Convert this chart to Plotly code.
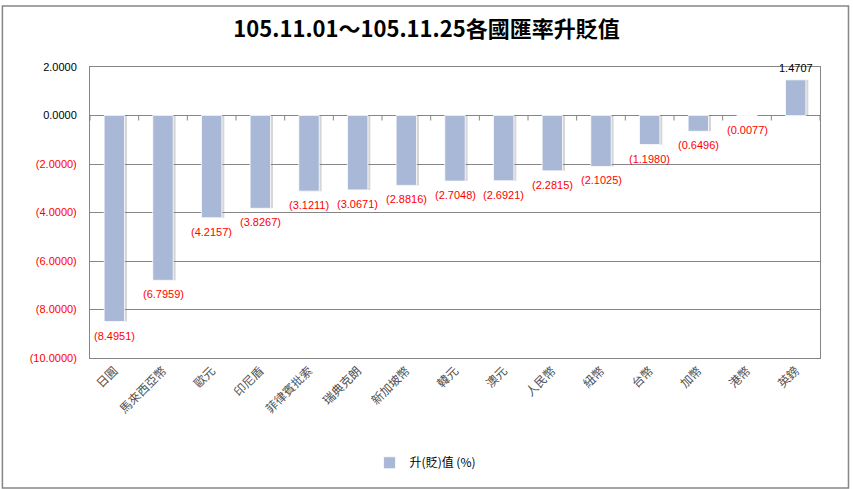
import plotly.graph_objects as go

title_text = "105.11.01～105.11.25各國匯率升貶值"
series_name = "升(貶)值 (%)"
currencies = ["日圓", "馬來西亞幣", "歐元", "印尼盾", "菲律賓批索", "瑞典克朗", "新加坡幣",
              "韓元", "澳元", "人民幣", "紐幣", "台幣", "加幣", "港幣", "英鎊"]
changes = [-8.4951, -6.7959, -4.2157, -3.8267, -3.1211, -3.0671, -2.8816,
           -2.7048, -2.6921, -2.2815, -2.1025, -1.1980, -0.6496, -0.0077, 1.4707]
y_ticks = [2, 0, -2, -4, -6, -8, -10]

def fmt(v):
    return f"({abs(v):.4f})" if v < 0 else f"{v:.4f}"

tick_text = [f'<span style="color:#FF0000">{fmt(v)}</span>' if v < 0 else fmt(v) for v in y_ticks]

ymin, ymax = min(y_ticks), max(y_ticks)
n = len(currencies)
idx = list(range(n))                      # category positions on a linear axis
bounds = [i - 0.5 for i in range(n + 1)]  # category boundaries
CJK = "Noto Sans CJK TC, Liberation Sans, sans-serif"
LAT = "Liberation Sans, Arial, sans-serif"
BAR_W = 0.42
W, H = 853, 489
M = dict(l=90, r=33, t=67, b=131)
TICK_PX = 5
tick_len_data = TICK_PX * (ymax - ymin) / (H - M["t"] - M["b"])

fig = go.Figure()
# soft shadow behind each bar
fig.add_trace(go.Bar(
    x=idx, y=changes, width=BAR_W, offset=-BAR_W / 2 + 0.05,
    marker=dict(color="rgba(120,120,120,0.3)", line=dict(width=0)),
    showlegend=False, hoverinfo="skip",
))
fig.add_trace(go.Bar(
    x=idx, y=changes, name=series_name, width=BAR_W, offset=-BAR_W / 2,
    marker=dict(color="#A9B8D6", line=dict(width=0.8, color="#FFFFFF")),
    showlegend=True, hoverinfo="skip",
))
# tick marks hanging down from the zero line at category boundaries
fig.add_trace(go.Scatter(
    x=bounds, y=[0] * len(bounds), mode="markers",
    marker=dict(size=1, opacity=0),
    error_y=dict(type="data", symmetric=False, array=[0] * len(bounds),
                 arrayminus=[tick_len_data] * len(bounds),
                 width=0, thickness=1, color="#868686"),
    showlegend=False, hoverinfo="skip", cliponaxis=False,
))

annotations = []
for i, v in zip(idx, changes):
    annotations.append(dict(
        x=i, y=v, xref="x", yref="y", text=fmt(v), showarrow=False,
        yanchor="top" if v < 0 else "bottom", yshift=-6 if v < 0 else 4,
        font=dict(size=11, family=LAT, color="#FF0000" if v < 0 else "#000000"),
    ))

fig.update_layout(
    width=W, height=H,
    paper_bgcolor="white", plot_bgcolor="white",
    margin=M,
    barmode="overlay",
    title=dict(text=f"<b>{title_text}</b>", x=0.5, xanchor="center", y=0.94, yanchor="middle",
               font=dict(size=22, family=CJK, color="#000000")),
    font=dict(family=CJK),
    yaxis=dict(range=[ymin, ymax], tickvals=y_ticks, ticktext=tick_text,
               showgrid=True, gridcolor="#868686", gridwidth=1,
               zeroline=True, zerolinecolor="#868686", zerolinewidth=1,
               tickfont=dict(size=11, family=LAT, color="#000000"),
               ticks="", ticklabelstandoff=10, showline=True, linecolor="#868686", mirror=True),
    xaxis=dict(type="linear", range=[-0.5, n - 0.5], tickvals=idx, ticktext=currencies,
               tickangle=-45, showgrid=False, zeroline=False,
               tickfont=dict(size=12, family=CJK, color="#505050"),
               showline=True, linecolor="#868686", mirror=True, ticks=""),
    legend=dict(orientation="h", x=0.459, xanchor="center", y=-0.36, yanchor="middle",
                font=dict(size=12, family=CJK, color="#000000"), itemwidth=30),
    annotations=annotations,
    shapes=[dict(type="rect", xref="paper", yref="paper", x0=-0.12, x1=1.039, y0=-0.447, y1=1.21,
                 line=dict(color="#868686", width=1.5), fillcolor="rgba(0,0,0,0)", layer="below")],
)
fig.write_html("out.html", config={"displayModeBar": False},
               post_script="document.body.style.margin='0';")
